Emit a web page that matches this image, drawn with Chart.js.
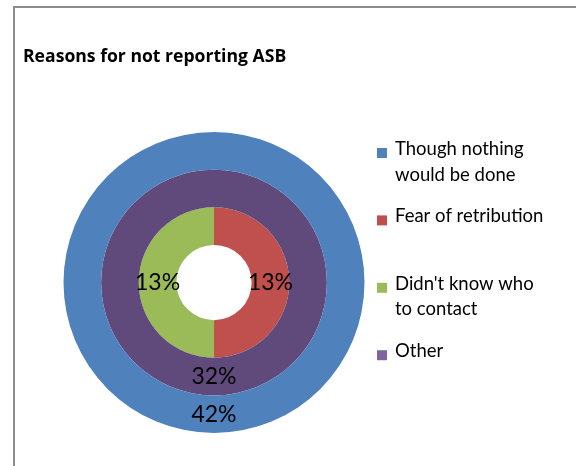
<!DOCTYPE html>
<html>
<head>
<meta charset="utf-8">
<script src="https://cdn.jsdelivr.net/npm/chart.js@4.4.1/dist/chart.umd.min.js"></script>
<style>
  html, body { margin: 0; padding: 0; background: #fff; }
  #wrap { width: 576px; height: 466px; }
</style>
</head>
<body>
<div id="wrap"><canvas id="asb" width="576" height="466"></canvas></div>
<script>
const title = 'Reasons for not reporting ASB';
const categories = ['Though nothing would be done', 'Fear of retribution', "Didn't know who to contact", 'Other'];
const percents = [42, 13, 13, 32];
// which categories sit on each ring, outermost first
const rings = [[0], [3], [1, 2]];

const sliceColors = ['#4f81bd', '#c0504d', '#9bbb59', '#604a7b'];
const keyColors = ['#4f81bd', '#c0504d', '#9bbb59', '#8064a2'];
const FONT = 'Lato, "Open Sans", sans-serif';

function wrapWords(ctx, text, maxWidth) {
  let words = text.split(' ');
  let lines = [];
  let line = '';
  for (let i = 0; i < words.length; i++) {
    let test = line ? line + ' ' + words[i] : words[i];
    if (line && ctx.measureText(test).width > maxWidth) {
      lines.push(line);
      line = words[i];
    } else {
      line = test;
    }
  }
  lines.push(line);
  return lines;
}

const decorations = {
  id: 'decorations',
  beforeDraw(chart) {
    const ctx = chart.ctx;
    ctx.save();
    ctx.strokeStyle = '#8c8c8c';
    ctx.lineWidth = 2;
    ctx.strokeRect(14, 7, 600, 500);

    ctx.fillStyle = '#000';
    ctx.font = 'bold 17.6px "Open Sans", sans-serif';
    ctx.textBaseline = 'alphabetic';
    ctx.fillText(title, 23, 62);
    ctx.restore();
  },
  afterDatasetsDraw(chart) {
    const ctx = chart.ctx;
    ctx.save();
    // value labels at each slice centre
    ctx.font = '23px ' + FONT;
    ctx.fillStyle = '#000';
    ctx.textAlign = 'center';
    ctx.textBaseline = 'middle';
    chart.data.datasets.forEach((ds, i) => {
      chart.getDatasetMeta(i).data.forEach((arc, j) => {
        const p = arc.tooltipPosition();
        ctx.fillText(ds.data[j] + '%', p.x, p.y);
      });
    });

    // legend on the right
    ctx.font = '18.5px ' + FONT;
    ctx.textAlign = 'left';
    ctx.textBaseline = 'alphabetic';
    let y = 155;
    categories.forEach((name, i) => {
      const lines = wrapWords(ctx, name, 152);
      ctx.fillStyle = keyColors[i];
      ctx.fillRect(377, y - 7, 10, 10);
      ctx.fillStyle = '#000';
      lines.forEach((ln, k) => ctx.fillText(ln, 395, y + k * 25.5));
      y += 67.4;
    });
    ctx.restore();
  }
};

const datasets = rings.map(ring => ({
  data: ring.map(c => percents[c]),
  backgroundColor: ring.map(c => sliceColors[c]),
  borderWidth: 0
}));

new Chart(document.getElementById('asb'), {
  type: 'doughnut',
  data: {
    labels: categories,
    datasets: datasets
  },
  options: {
    responsive: false,
    animation: false,
    cutout: '25%',
    layout: {
      padding: { left: 63, right: 211, top: 132, bottom: 33 }
    },
    plugins: {
      legend: { display: false },
      tooltip: { enabled: false }
    }
  },
  plugins: [decorations]
});
</script>
</body>
</html>
